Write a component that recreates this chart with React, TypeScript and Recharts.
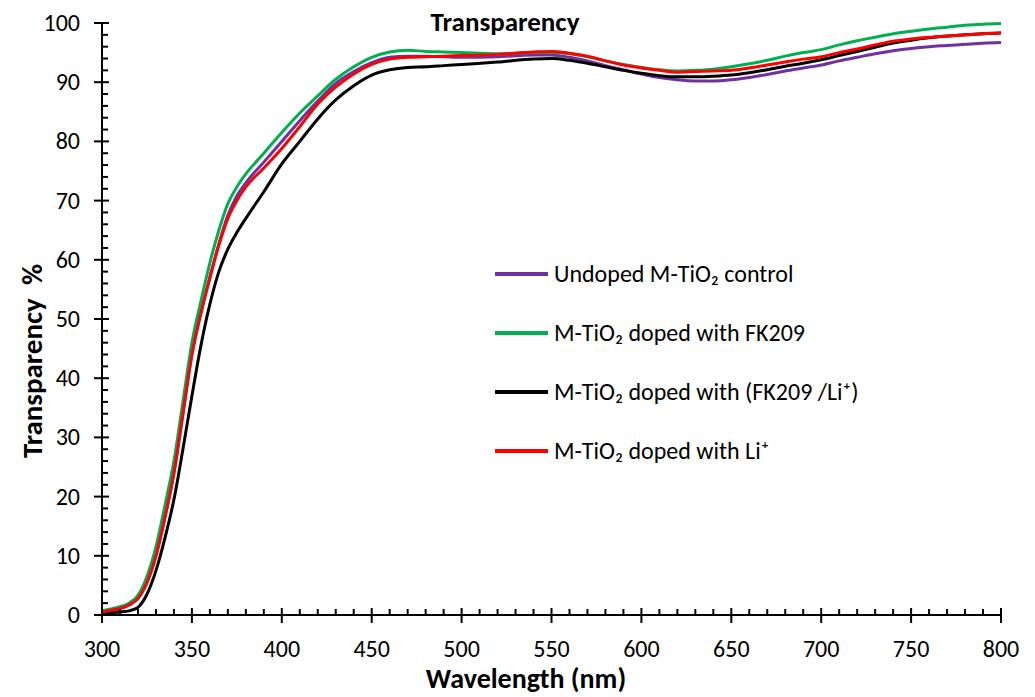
import React from 'react';
import { LineChart, Line, XAxis, YAxis } from 'recharts';

const wavelengths = [300, 305, 310, 315, 320, 325, 330, 335, 340, 345, 350, 355, 360, 365, 370, 375, 380, 390, 400, 410, 420, 430, 440, 450, 460, 470, 480, 490, 500, 520, 540, 550, 560, 570, 580, 590, 600, 610, 620, 630, 640, 650, 660, 670, 680, 690, 700, 710, 720, 730, 740, 750, 760, 770, 780, 790, 800];

const undoped = [0.5, 0.8, 1.1, 1.7, 2.8, 5.5, 10.0, 16.5, 24, 34, 44, 51, 57, 62.7, 67.5, 70.8, 73, 76.5, 80, 83.5, 86.8, 89.8, 91.8, 93.3, 94.2, 94.4, 94.4, 94.3, 94.2, 94.3, 94.6, 94.6, 94.2, 93.6, 92.8, 92.1, 91.4, 90.8, 90.4, 90.2, 90.2, 90.4, 90.8, 91.3, 91.9, 92.4, 92.9, 93.6, 94.2, 94.8, 95.3, 95.7, 96.0, 96.2, 96.4, 96.6, 96.7];

const fk209 = [0.7, 1.0, 1.4, 2.0, 3.3, 6.5, 11.5, 18.5, 26, 36, 46, 53, 59.5, 65, 69.5, 72.3, 74.5, 78, 81.5, 84.8, 87.7, 90.5, 92.6, 94.2, 95.1, 95.4, 95.2, 95.1, 95.0, 94.8, 95.0, 95.0, 94.8, 94.3, 93.6, 93.0, 92.5, 92.1, 91.9, 92.0, 92.2, 92.6, 93.1, 93.7, 94.4, 95.0, 95.5, 96.3, 97.0, 97.6, 98.2, 98.6, 99.0, 99.3, 99.6, 99.8, 99.9];

const fk209Li = [0.3, 0.4, 0.5, 0.7, 1.3, 3.5, 7.5, 13, 19.5, 28, 37, 45.5, 52.5, 58, 61.8, 64.6, 67, 71.5, 76.2, 80, 83.8, 87, 89.4, 91.2, 92.1, 92.5, 92.6, 92.8, 93.0, 93.4, 93.9, 94.0, 93.7, 93.2, 92.6, 92.0, 91.5, 91.1, 90.9, 90.9, 91.0, 91.2, 91.6, 92.1, 92.7, 93.2, 93.8, 94.5, 95.2, 95.9, 96.6, 97.1, 97.5, 97.8, 98.0, 98.2, 98.3];

const li = [0.5, 0.8, 1.1, 1.7, 2.8, 5.5, 10.0, 16.5, 24, 34, 44, 51, 57, 62.5, 67, 70, 72.3, 75.5, 78.8, 82.5, 86.3, 89.2, 91.4, 93.0, 93.9, 94.2, 94.3, 94.4, 94.5, 94.7, 95.1, 95.2, 94.9, 94.4, 93.6, 92.9, 92.4, 92.0, 91.7, 91.8, 91.9, 92.0, 92.4, 92.9, 93.4, 93.9, 94.3, 95.0, 95.6, 96.3, 96.9, 97.3, 97.6, 97.8, 98.0, 98.2, 98.3];

const xTicks = [300, 310, 320, 330, 340, 350, 360, 370, 380, 390, 400, 410, 420, 430, 440, 450, 460, 470, 480, 490, 500, 510, 520, 530, 540, 550, 560, 570, 580, 590, 600, 610, 620, 630, 640, 650, 660, 670, 680, 690, 700, 710, 720, 730, 740, 750, 760, 770, 780, 790, 800];
const yTicks = [0, 2, 4, 6, 8, 10, 12, 14, 16, 18, 20, 22, 24, 26, 28, 30, 32, 34, 36, 38, 40, 42, 44, 46, 48, 50, 52, 54, 56, 58, 60, 62, 64, 66, 68, 70, 72, 74, 76, 78, 80, 82, 84, 86, 88, 90, 92, 94, 96, 98, 100];

const seriesDefs = [
  { key: 'undoped', name: 'Undoped M-TiO\u2082 control', color: '#7030A0', values: undoped },
  { key: 'fk209', name: 'M-TiO\u2082 doped with FK209', color: '#00B050', values: fk209 },
  { key: 'fk209Li', name: 'M-TiO\u2082 doped with (FK209 /Li\u207A)', color: '#000000', values: fk209Li },
  { key: 'li', name: 'M-TiO\u2082 doped with Li\u207A', color: '#FF0000', values: li },
];

const data = wavelengths.map((w, i) => {
  const row: Record<string, number> = { w };
  seriesDefs.forEach((s) => { row[s.key] = s.values[i]; });
  return row;
});

const FONT = 'Carlito, Lato, "Open Sans", sans-serif';

const XTick = (props: any) => {
  const { x, y, payload } = props;
  const major = payload.value % 50 === 0;
  return (
    <g>
      <line x1={x} x2={x} y1={major ? y - 7 : y - 6} y2={major ? y + 8 : y} stroke="#000" strokeWidth={2} />
      {major && (
        <text x={x} y={y + 42} textAnchor="middle" fontSize={24} fontFamily={FONT} fill="#000">{payload.value}</text>
      )}
    </g>
  );
};

const YTick = (props: any) => {
  const { x, y, payload } = props;
  const major = payload.value % 10 === 0;
  return (
    <g>
      <line x1={major ? x - 8 : x} x2={major ? x + 7 : x + 6} y1={y} y2={y} stroke="#000" strokeWidth={2} />
      {major && (
        <text x={x - 22} y={y + 8} textAnchor="end" fontSize={24} fontFamily={FONT} fill="#000">{payload.value}</text>
      )}
    </g>
  );
};

export default function App() {
  return (
    <div style={{ position: 'absolute', left: 0, top: 0, width: 1035, height: 697, background: '#fff', fontFamily: FONT }}>
      <LineChart width={1035} height={697} data={data} margin={{ top: 23, right: 34, bottom: 0, left: 0 }}>
        <XAxis
          dataKey="w"
          type="number"
          domain={[300, 800]}
          ticks={xTicks}
          interval={0}
          tickSize={0}
          tickMargin={0}
          tickLine={false}
          tick={<XTick />}
          height={82}
          axisLine={{ stroke: '#000', strokeWidth: 2 }}
        />
        <YAxis
          type="number"
          domain={[0, 100]}
          ticks={yTicks}
          interval={0}
          tickSize={0}
          tickMargin={0}
          tickLine={false}
          tick={<YTick />}
          width={102}
          axisLine={{ stroke: '#000', strokeWidth: 2 }}
        />
        {seriesDefs.map((s) => (
          <Line
            key={s.key}
            dataKey={s.key}
            name={s.name}
            type="monotone"
            stroke={s.color}
            strokeWidth={3}
            dot={false}
            isAnimationActive={false}
          />
        ))}
      </LineChart>
      <div style={{ position: 'absolute', left: 505, top: 22, transform: 'translate(-50%, -50%)', whiteSpace: 'nowrap', fontWeight: 'bold', fontSize: 27, lineHeight: '30px' }}>
        Transparency
      </div>
      <div style={{ position: 'absolute', left: 526, top: 679, transform: 'translate(-50%, -50%)', whiteSpace: 'nowrap', fontWeight: 'bold', fontSize: 28, lineHeight: '30px' }}>
        Wavelength (nm)
      </div>
      <div style={{ position: 'absolute', left: 32, top: 361, transform: 'translate(-50%, -50%) rotate(-90deg)', whiteSpace: 'pre', fontWeight: 'bold', fontSize: 29, lineHeight: '32px' }}>
        {'Transparency  %'}
      </div>
      <div style={{ position: 'absolute', left: 495, top: 244 }}>
        {seriesDefs.map((s) => (
          <div key={s.key} style={{ display: 'flex', alignItems: 'center', height: 59 }}>
            <div style={{ width: 53, height: 4, background: s.color, marginRight: 6 }} />
            <span style={{ fontSize: 24, whiteSpace: 'nowrap' }}>{s.name}</span>
          </div>
        ))}
      </div>
    </div>
  );
}
